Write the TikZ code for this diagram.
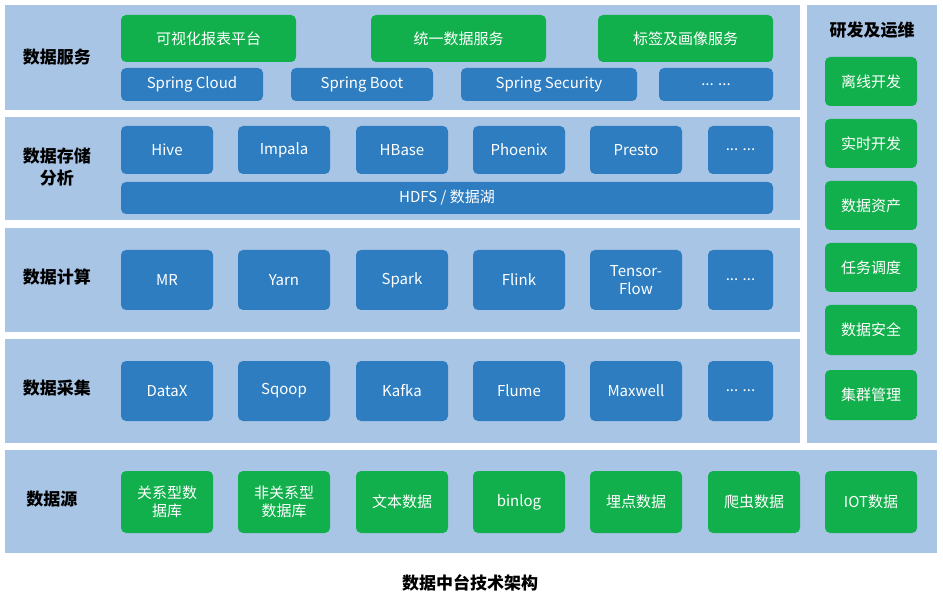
\documentclass[tikz,border=0pt]{standalone}
\usepackage{fontspec}
\setmainfont{Carlito}
\newfontfamily\cjk{Noto Sans CJK SC}
\definecolor{gfill}{HTML}{12B04C}
\definecolor{bfill}{HTML}{2E7DC0}
\definecolor{pfill}{HTML}{A9C5E5}
\tikzset{
 gbox/.style={fill=gfill,rounded corners=5pt,text=white,font=\cjk\fontsize{15}{18}\selectfont,align=center,inner sep=0pt},
 bbox/.style={fill=bfill,rounded corners=5pt,text=white,font=\cjk\fontsize{15}{18}\selectfont,align=center,inner sep=0pt},
 panel/.style={fill=pfill,inner sep=0pt},
 lbl/.style={font=\cjk\bfseries\fontsize{17}{22}\selectfont,align=center}
}
\newcommand\BX[7]{\node[#1, minimum width={(#5-#3)*1pt}, minimum height={(#6-#4)*1pt}] (#2) at ({(#3+#5)/2*1pt},{-(#4+#6)/2*1pt}) {#7};}
\begin{document}
\begin{tikzpicture}[x=1pt,y=1pt]
\useasboundingbox (0,0) rectangle (943,-604);
\BX{panel}{p1}{5}{5}{800}{110}{}
\BX{panel}{p2}{5}{117}{800}{220}{}
\BX{panel}{p3}{5}{228}{800}{332}{}
\BX{panel}{p4}{5}{339}{800}{443}{}
\BX{panel}{p5}{5}{450}{937}{553}{}
\BX{panel}{p6}{807}{5}{937}{443}{}
\node[lbl] (l1) at (57,-57) {数据服务};
\node[lbl] (l2) at (57,-167) {数据存储\\分析};
\node[lbl] (l3) at (57,-277) {数据计算};
\node[lbl] (l4) at (57,-388) {数据采集};
\node[lbl] (l5) at (52,-499) {数据源};
\node[lbl] (l6) at (872,-30) {研发及运维};
% row1
\BX{gbox}{a1}{121}{15}{296}{62}{可视化报表平台}
\BX{gbox}{a2}{371}{15}{546}{62}{统一数据服务}
\BX{gbox}{a3}{598}{15}{773}{62}{标签及画像服务}
\BX{bbox}{b1}{121}{68}{263}{101}{Spring Cloud}
\BX{bbox}{b2}{291}{68}{433}{101}{Spring Boot}
\BX{bbox}{b3}{461}{68}{637}{101}{Spring Security}
\BX{bbox}{b4}{659}{68}{773}{101}{... ...}
% row2
\BX{bbox}{c1}{121}{126}{213}{174}{Hive}
\BX{bbox}{c2}{238}{126}{330}{174}{Impala}
\BX{bbox}{c3}{356}{126}{448}{174}{HBase}
\BX{bbox}{c4}{473}{126}{565}{174}{Phoenix}
\BX{bbox}{c5}{590}{126}{682}{174}{Presto}
\BX{bbox}{c6}{708}{126}{773}{174}{... ...}
\BX{bbox}{c7}{121}{182}{773}{214}{HDFS / 数据湖}
% row3
\BX{bbox}{d1}{121}{250}{213}{310}{MR}
\BX{bbox}{d2}{238}{250}{330}{310}{Yarn}
\BX{bbox}{d3}{356}{250}{448}{310}{Spark}
\BX{bbox}{d4}{473}{250}{565}{310}{Flink}
\BX{bbox}{d5}{590}{250}{682}{310}{Tensor-\\Flow}
\BX{bbox}{d6}{708}{250}{773}{310}{... ...}
% row4
\BX{bbox}{e1}{121}{361}{213}{421}{DataX}
\BX{bbox}{e2}{238}{361}{330}{421}{Sqoop}
\BX{bbox}{e3}{356}{361}{448}{421}{Kafka}
\BX{bbox}{e4}{473}{361}{565}{421}{Flume}
\BX{bbox}{e5}{590}{361}{682}{421}{Maxwell}
\BX{bbox}{e6}{708}{361}{773}{421}{... ...}
% row5
\BX{gbox}{f1}{121}{471}{213}{533}{关系型数\\据库}
\BX{gbox}{f2}{238}{471}{330}{533}{非关系型\\数据库}
\BX{gbox}{f3}{356}{471}{448}{533}{文本数据}
\BX{gbox}{f4}{473}{471}{565}{533}{binlog}
\BX{gbox}{f5}{590}{471}{682}{533}{埋点数据}
\BX{gbox}{f6}{708}{471}{800}{533}{爬虫数据}
\BX{gbox}{f7}{825}{471}{917}{533}{IOT数据}
% right
\BX{gbox}{g1}{825}{57}{917}{106}{离线开发}
\BX{gbox}{g2}{825}{119}{917}{168}{实时开发}
\BX{gbox}{g3}{825}{181}{917}{230}{数据资产}
\BX{gbox}{g4}{825}{243}{917}{292}{任务调度}
\BX{gbox}{g5}{825}{305}{917}{355}{数据安全}
\BX{gbox}{g6}{825}{370}{917}{420}{集群管理}
\node[font=\cjk\bfseries\fontsize{17}{22}\selectfont] (cap) at (470,-583) {数据中台技术架构};
\end{tikzpicture}
\end{document}
